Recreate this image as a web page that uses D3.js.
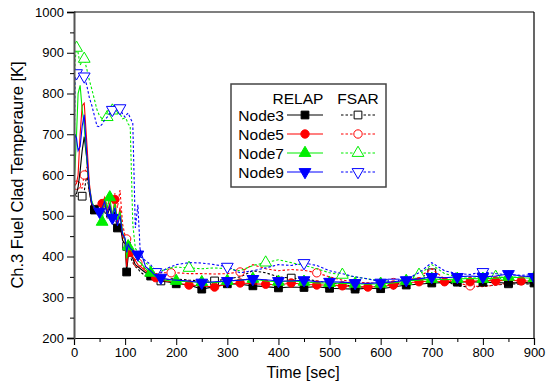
<!DOCTYPE html>
<html><head><meta charset="utf-8">
<script src="https://cdn.jsdelivr.net/npm/d3@7"></script>
<style>
body{margin:0;background:#fff}
text{font-family:Arial,"Liberation Sans",sans-serif;fill:#000}
</style>
</head><body><svg id="c" width="551" height="387"></svg>
<script>
// ---- data ----
const time = [0,2,5,8,12,16,20,25,30,35, 40,45,50,55,60,65,70,75,80,85, 90,95,100,103,106,110,115,120,125,130, 140,150,160,170,180,190,200,
  225,250,275,300,325,350,375,400,425,450,475,500,525,550,575,600,625,650,675,700,725,750,775,800,825,850,875,900];

const relapNode3 = [550,552,555,570,610,660,694,640,560,525, 515,512,505,510,535,500,520,490,510,470, 480,440,430,362,400,405,395,380,375,370, 360,352,345,340,338,336,333,
  330,320,326,333,332,328,326,323,325,324,326,322,321,320,322,321,325,330,332,335,336,337,338,337,336,335,336,335];
const relapNode5 = [570,575,580,600,700,770,776,680,580,530, 518,515,512,530,545,510,530,500,540,480, 520,450,440,375,415,410,400,390,380,375, 365,355,348,342,340,338,335,
  330,328,325,332,335,333,332,330,335,332,330,330,328,326,325,326,330,335,338,340,338,340,338,342,340,342,340,340];
const relapNode7 = [580,620,700,800,820,760,720,640,570,535, 520,515,505,485,540,520,545,500,530,490, 510,460,440,395,425,420,410,400,390,385, 370,360,350,345,342,340,340,
  338,337,336,340,342,345,340,338,340,338,335,335,334,333,332,333,335,340,342,345,343,345,346,345,347,350,348,347];
const relapNode9 = [600,700,690,660,670,720,748,650,570,530, 520,515,510,520,535,505,525,495,520,475, 500,455,445,410,430,420,415,410,405,415, 375,365,352,348,345,343,342,
  340,336,338,340,342,345,343,340,340,342,338,338,337,335,334,336,338,342,345,350,348,350,352,350,352,357,352,350];

const fsarNode3 = [560,550,548,548,548,548,560,600,560,525, 514,512,508,505,510,495,505,480,500,470, 475,450,430,425,415,400,385,375,370,362, 352,345,342,340,342,345,345,
  342,340,340,345,350,365,360,350,347,345,340,335,332,325,325,328,332,338,348,360,340,328,325,327,330,333,332,333];
const fsarNode5 = [570,575,575,570,568,568,600,620,560,525, 518,516,512,515,530,520,545,530,555,520, 563,480,450,443,430,420,400,390,384,378, 368,362,358,360,360,360,360,
  358,358,357,358,362,380,370,365,368,366,360,350,342,338,335,335,336,340,350,370,345,335,328,326,330,335,336,337];
const fsarNode7 = [580,880,912,900,870,880,885,860,833,810, 785,760,745,738,735,742,748,758,755,752, 750,738,740,735,725,720,480,420,410,400, 385,375,368,365,368,372,374,
  372,370,372,370,365,378,385,392,385,378,370,360,355,350,345,340,340,345,355,380,358,350,350,348,350,348,350,352];
const fsarNode9 = [600,840,850,848,845,842,842,820,790,770, 745,720,718,725,735,742,752,760,762,764, 764,750,742,748,752,740,728,470,527,400, 390,380,362,360,370,375,380,
  385,384,380,375,360,365,372,380,378,384,378,365,358,350,345,338,336,345,360,385,365,358,356,362,358,355,354,355];

// sample times that carry a marker symbol
const marksRelap3 = [40,85,103,150,200,250,300,350,400,450,500,550,600,650,700,750,800,850,900];
const marksRelap5 = [55,80,110,160,225,275,325,375,425,475,525,575,625,675,725,775,825,875];
const marksRelap7 = [55,70,106,150,200,250,300,350,400,450,500,550,600,650,700,750,800,850,900];
const marksRelap9 = [50,75,125,170,250,300,350,400,450,500,550,600,650,700,750,800,850,900];
const marksFsar3 = [16,40,103,170,275,425,550,700,850];
const marksFsar5 = [5,20,45,103,125,190,325,475,625,775];
const marksFsar7 = [5,20,65,75,225,375,525,675,825];
const marksFsar9 = [5,20,75,90,160,300,450,625,800];

const nodeNames = ["Node3","Node5","Node7","Node9"];
const xTicks = [0,100,200,300,400,500,600,700,800,900];
const yTicks = [200,300,400,500,600,700,800,900,1000];

// ---- styles ----
const colors = ["#000000","#ff0000","#00ee00","#0000ff"];
const shapes = [d3.symbolSquare, d3.symbolCircle, d3.symbolTriangle, d3.symbolTriangle];
const sizes = [60, 55, 60, 60];
const flip = [false,false,false,true];

const relap = [relapNode3,relapNode5,relapNode7,relapNode9];
const fsar = [fsarNode3,fsarNode5,fsarNode7,fsarNode9];
const relapMarks = [marksRelap3,marksRelap5,marksRelap7,marksRelap9];
const fsarMarks = [marksFsar3,marksFsar5,marksFsar7,marksFsar9];

const svg = d3.select("#c");
const L=74, R=534, T=12, B=338;
const x = d3.scaleLinear().domain([0,900]).range([L,R]);
const y = d3.scaleLinear().domain([200,1000]).range([B,T]);

svg.append("defs").append("clipPath").attr("id","clip")
  .append("rect").attr("x",L).attr("y",T).attr("width",R-L).attr("height",B-T);

const plot = svg.append("g").attr("clip-path","url(#clip)");
const line = d3.line().x((d,i)=>x(time[i])).y(d=>y(d));

function sym(i){
  return d3.symbol().type(shapes[i]).size(sizes[i])();
}
function drawSeries(vals, marks, i, dashed){
  plot.append("path").attr("d", line(vals)).attr("fill","none")
    .attr("stroke", colors[i]).attr("stroke-width", 1.1)
    .attr("stroke-dasharray", dashed ? "2.5,2" : null);
  const pts = marks.map(t => [t, vals[time.indexOf(t)]]);
  plot.selectAll(null).data(pts).enter().append("path")
    .attr("d", sym(i))
    .attr("transform", d => `translate(${x(d[0])},${y(d[1])})` + (flip[i] ? " rotate(180)" : ""))
    .attr("fill", dashed ? "#fff" : colors[i])
    .attr("stroke", colors[i]).attr("stroke-width", 1);
}
for (let i=0;i<4;i++) drawSeries(fsar[i], fsarMarks[i], i, true);
for (let i=0;i<4;i++) drawSeries(relap[i], relapMarks[i], i, false);

// ---- axes ----
const xAxis = d3.axisBottom(x).tickValues(xTicks).tickSize(7).tickPadding(3).tickFormat(d3.format("d"));
const gx = svg.append("g").attr("transform",`translate(0,${B})`).call(xAxis);
gx.selectAll(".tick line").attr("stroke","#000");
gx.select(".domain").attr("stroke","#000").attr("stroke-width",1.2);
gx.selectAll("text").attr("font-size",13).attr("fill","#000");
svg.append("g").attr("transform",`translate(0,${B})`)
  .call(d3.axisBottom(x).tickValues(d3.range(50,900,100)).tickSize(4).tickFormat(""))
  .call(g=>g.select(".domain").remove());

const yAxis = d3.axisLeft(y).tickValues(yTicks).tickSize(7).tickPadding(3).tickFormat(d3.format("d"));
const gy = svg.append("g").attr("transform",`translate(${L},0)`).call(yAxis);
gy.select(".domain").attr("stroke","#555").attr("stroke-width",2);
gy.selectAll("text").attr("font-size",13).attr("fill","#000");
svg.append("g").attr("transform",`translate(${L},0)`)
  .call(d3.axisLeft(y).tickValues(d3.range(250,1000,100)).tickSize(4).tickFormat(""))
  .call(g=>g.select(".domain").remove());

// frame top/right
svg.append("line").attr("x1",L).attr("x2",R).attr("y1",T).attr("y2",T).attr("stroke","#000").attr("stroke-width",1.2);
svg.append("line").attr("x1",R).attr("x2",R).attr("y1",T).attr("y2",B).attr("stroke","#000").attr("stroke-width",1.2);

// axis titles
svg.append("text").attr("x",303).attr("y",378).attr("text-anchor","middle").attr("font-size",16).text("Time [sec]");
svg.append("text").attr("transform",`translate(23,175) rotate(-90)`).attr("text-anchor","middle").attr("font-size",16.5)
  .text("Ch.3 Fuel Clad Temperaure [K]");

// ---- legend ----
const lg = svg.append("g");
lg.append("rect").attr("x",231).attr("y",84).attr("width",155).attr("height",103)
  .attr("fill","#fff").attr("stroke","#444").attr("stroke-width",1.5);
lg.append("text").attr("x",298).attr("y",104).attr("text-anchor","middle").attr("font-size",15.5).text("RELAP");
lg.append("text").attr("x",358).attr("y",104).attr("text-anchor","middle").attr("font-size",15.5).text("FSAR");
const rowY = [115,134,153,172];
nodeNames.forEach((n,i)=>{
  const yy = rowY[i];
  lg.append("text").attr("x",284).attr("y",yy+5.5).attr("text-anchor","end").attr("font-size",15.5).text(n);
  lg.append("line").attr("x1",287).attr("x2",323).attr("y1",yy).attr("y2",yy).attr("stroke",colors[i]).attr("stroke-width",1.1);
  lg.append("path").attr("d",sym(i)).attr("transform",`translate(305,${yy})`+(flip[i]?" rotate(180)":""))
    .attr("fill",colors[i]).attr("stroke",colors[i]);
  lg.append("line").attr("x1",341).attr("x2",375).attr("y1",yy).attr("y2",yy).attr("stroke",colors[i]).attr("stroke-width",1.1).attr("stroke-dasharray","2.5,2");
  lg.append("path").attr("d",sym(i)).attr("transform",`translate(358,${yy})`+(flip[i]?" rotate(180)":""))
    .attr("fill","#fff").attr("stroke",colors[i]);
});
</script>
</body></html>
